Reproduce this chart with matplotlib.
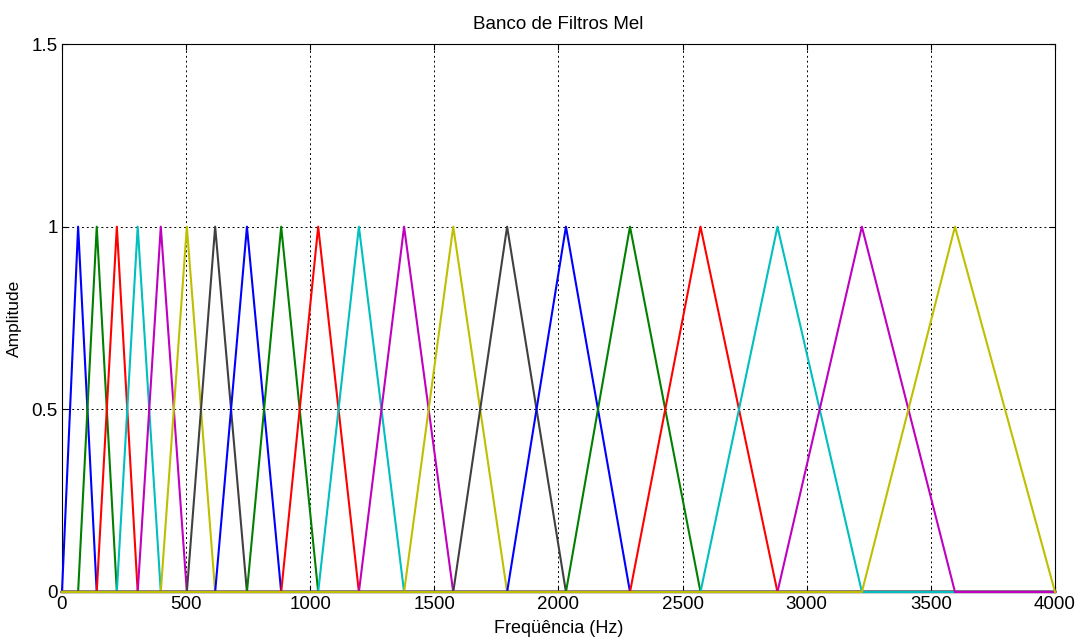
import numpy as np
import matplotlib
matplotlib.use('Agg')
import matplotlib.pyplot as plt

plt.rcParams['font.family'] = ['Liberation Sans', 'DejaVu Sans']

# edge/centre frequencies of the mel filter bank (Hz)
pontos = [0, 65, 140, 221, 305, 398, 503, 617, 745, 883, 1032, 1196,
          1378, 1576, 1793, 2030, 2288, 2572, 2882, 3222, 3597, 4000]
f_max = 4000

cores = [(0, 0, 1), (0, 0.5, 0), (1, 0, 0), (0, 0.75, 0.75),
         (0.75, 0, 0.75), (0.75, 0.75, 0), (0.25, 0.25, 0.25)]

xticks = [0, 500, 1000, 1500, 2000, 2500, 3000, 3500, 4000]
yticks = [0, 0.5, 1, 1.5]

fig = plt.figure(figsize=(10.76, 6.39), dpi=100)
ax = fig.add_axes([0.0576, 0.0736, 0.9229, 0.8575])

for k in range(1, len(pontos) - 1):
    lo, pk, hi = pontos[k - 1], pontos[k], pontos[k + 1]
    x = [0, lo, pk, hi, f_max]
    y = [0, 0, 1, 0, 0]
    # desenha por cima do eixo para a linha em zero ficar visivel
    ax.plot(x, y, color=cores[(k - 1) % len(cores)], lw=1.5, zorder=3, clip_on=False)

ax.set_xlim(0, 4000)
ax.set_ylim(0, 1.5)
ax.set_xticks(xticks)
ax.set_yticks(yticks)
ax.set_yticklabels(['0', '0.5', '1', '1.5'])
ax.grid(True, color='black', linestyle=(0, (2, 3)), lw=0.7)
ax.tick_params(direction='in', top=True, right=True, length=4, labelsize=13.5, pad=3)
for s in ax.spines.values():
    s.set_linewidth(0.8)

ax.set_title('Banco de Filtros Mel', fontsize=13.5, pad=11)
ax.set_xlabel('Freqüência (Hz)', fontsize=13, labelpad=5)
ax.set_ylabel('Amplitude', fontsize=12.5, labelpad=7)

fig.savefig('out.png', dpi=100)
